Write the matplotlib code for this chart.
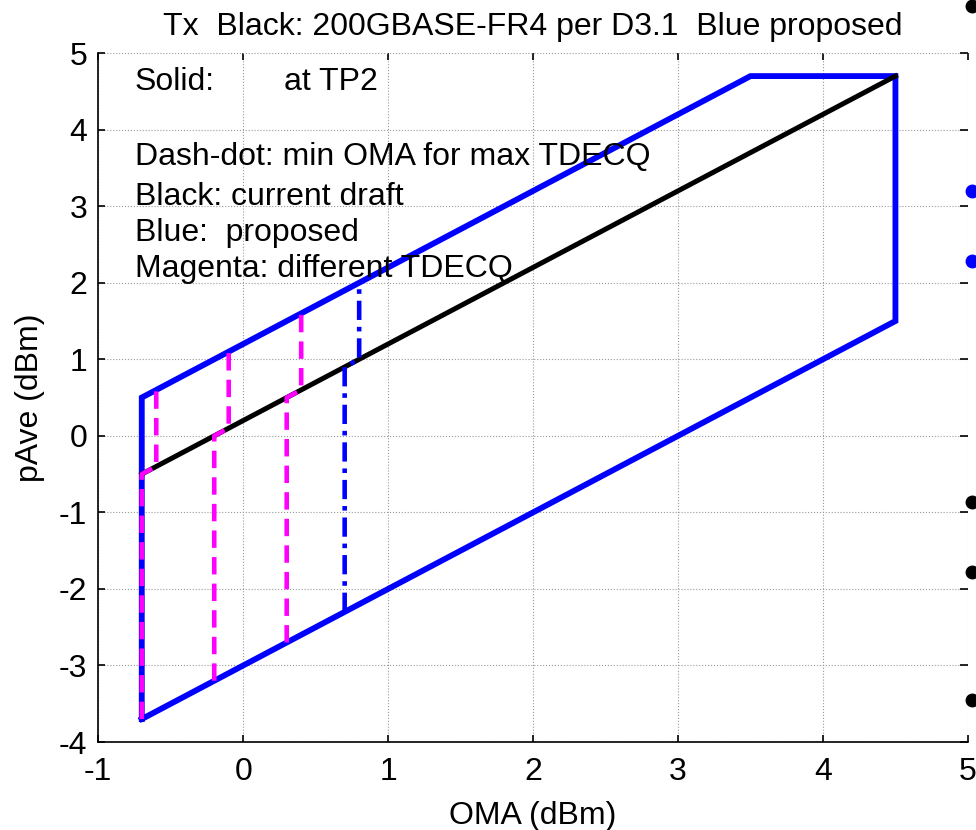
import matplotlib
matplotlib.use('Agg')
import matplotlib.pyplot as plt

plt.rcParams['font.family'] = ['Liberation Sans', 'DejaVu Sans']
plt.rcParams['axes.unicode_minus'] = False

# Proposed (blue) limit box, OMA vs pAve
blue_oma = [-0.7, -0.7, 3.5, 4.5, 4.5, -0.7]
blue_pave = [-3.7, 0.5, 4.7, 4.7, 1.5, -3.7]

# Current draft (black) lower limit line
black_oma = [-0.7, 4.5]
black_pave = [-0.5, 4.7]

# Magenta dashed: different TDECQ
mag_oma = [
    [-0.7, -0.7, -0.6, -0.6],
    [-0.2, -0.2, -0.1, -0.1],
    [0.3, 0.3, 0.4, 0.4],
]
mag_pave = [
    [-3.7, -0.5, -0.4, 0.6],
    [-3.2, 0.0, 0.1, 1.1],
    [-2.7, 0.5, 0.6, 1.6],
]

# Blue dash-dot: min OMA for max TDECQ
dd_oma = [0.7, 0.7, 0.8, 0.8]
dd_pave = [-2.3, 0.9, 1.0, 2.0]

# bullets cut off at the right edge
dot_x = [5.025, 5.025, 5.025, 5.025, 5.025, 5.025]
dot_y = [5.61, 3.20, 2.28, -0.87, -1.78, -3.45]
dot_c = ['black', 'blue', 'blue', 'black', 'black', 'black']

notes = ['Dash-dot: min OMA for max TDECQ', 'Black: current draft',
         'Blue:  proposed', 'Magenta: different TDECQ']
note_y = [3.54, 3.02, 2.54, 2.07]

fs = 23

fig = plt.figure(figsize=(9.76, 8.30), dpi=100)
ax = fig.add_axes([0.1007, 0.106, 0.891, 0.830])

ax.plot(blue_oma, blue_pave, color='blue', linewidth=4.2, solid_joinstyle='miter')
ax.plot(black_oma, black_pave, color='black', linewidth=3.6)
for xs, ys in zip(mag_oma, mag_pave):
    ax.plot(xs, ys, color='magenta', linewidth=3.3, linestyle=(0, (3.8, 2.0)))
ax.plot(dd_oma, dd_pave, color='blue', linewidth=3.3, linestyle=(0, (4.2, 1.5, 1.0, 1.5)))

for x, y, c in zip(dot_x, dot_y, dot_c):
    ax.plot(x, y, 'o', color=c, markersize=9, clip_on=False)

ax.text(-0.747, 4.52, 'Solid:', fontsize=fs, va='baseline')
ax.text(0.28, 4.52, 'at TP2', fontsize=fs, va='baseline')
for s, y in zip(notes, note_y):
    ax.text(-0.747, y, s, fontsize=fs, va='baseline')

ax.set_xlim(-1, 5)
ax.set_ylim(-4, 5)
ax.set_xticks(range(-1, 6))
ax.set_yticks(range(-4, 6))
ax.grid(True, color='#999999', linestyle=':', linewidth=0.8)
ax.set_axisbelow(True)

ax.spines['top'].set_visible(False)
ax.spines['right'].set_visible(False)
ax.spines['left'].set_linewidth(1.2)
ax.spines['bottom'].set_linewidth(1.2)
ax.tick_params(axis='both', direction='in', top=True, length=5,
               labelsize=fs, width=1.2)
ax.tick_params(axis='y', right=True)
ax.tick_params(axis='y', which='major', pad=8)
ax.tick_params(axis='x', pad=11)
# right-hand ticks sit just outside the x=5 line
for t in ax.yaxis.get_major_ticks():
    t.tick2line.set_marker(0)
    t.tick2line.set_markersize(6)

ax.set_title('Tx  Black: 200GBASE-FR4 per D3.1  Blue proposed', fontsize=fs, pad=13)
ax.set_xlabel('OMA (dBm)', fontsize=fs, labelpad=10)
ax.set_ylabel('pAve (dBm)', fontsize=fs, labelpad=10)

fig.savefig('out.png', dpi=100)
